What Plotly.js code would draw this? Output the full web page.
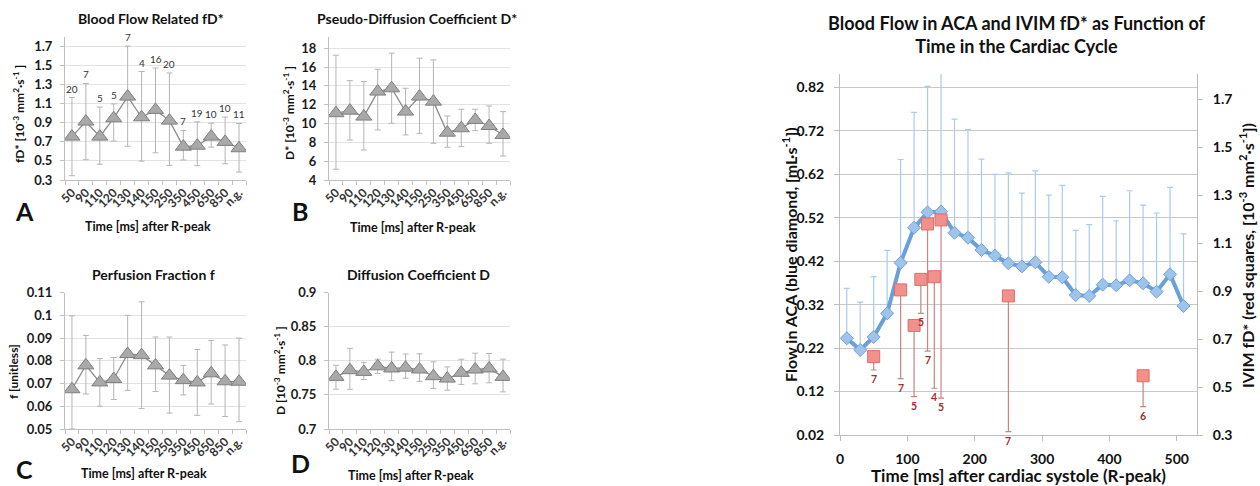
<!DOCTYPE html>
<html>
<head>
<meta charset="utf-8">
<script src="https://cdn.plot.ly/plotly-3.0.1.min.js"></script>
<style>html,body{margin:0;padding:0;background:#fff;}#chart{width:1260px;height:486px;}</style>
</head>
<body>
<div id="chart"></div>
<script>
// ---------- data ----------
const categories = ['50','90','110','120','130','140','150','250','350','450','650','850','n.g.'];

// Panel A: blood flow related fD*
const fdStar      = [0.755, 0.913, 0.755, 0.948, 1.175, 0.958, 1.035, 0.923, 0.650, 0.660, 0.755, 0.700, 0.633];
const fdStarPlus  = [0.41, 0.40, 0.31, 0.15, 0.53, 0.48, 0.44, 0.50, 0.17, 0.25, 0.14, 0.26, 0.26];
const fdStarMinus = [0.41, 0.40, 0.29, 0.24, 0.52, 0.46, 0.45, 0.47, 0.14, 0.21, 0.11, 0.23, 0.25];
const fdStarN     = ['20','7','5','5','7','4','16','20','7','19','10','10','11'];

// Panel B: pseudo-diffusion coefficient D*
const dStar      = [11.10, 11.37, 10.74, 13.40, 13.75, 11.27, 12.87, 12.33, 9.03, 9.50, 10.38, 9.74, 8.79];
const dStarPlus  = [6.16, 3.19, 3.72, 2.37, 3.73, 2.48, 4.07, 4.44, 1.78, 2.02, 1.14, 2.13, 2.48];
const dStarMinus = [5.96, 3.11, 3.55, 4.08, 3.72, 2.48, 3.91, 4.43, 1.55, 1.95, 1.13, 1.84, 2.24];

// Panel C: perfusion fraction f
const fFrac      = [0.0675, 0.0780, 0.0705, 0.0720, 0.0830, 0.0825, 0.0780, 0.0735, 0.0715, 0.0705, 0.0745, 0.0710, 0.0708];
const fFracPlus  = [0.0323, 0.0132, 0.0105, 0.0095, 0.0170, 0.0235, 0.0125, 0.0170, 0.0065, 0.0145, 0.0145, 0.0160, 0.0192];
const fFracMinus = [0.0175, 0.0126, 0.0105, 0.0090, 0.0160, 0.0235, 0.0115, 0.0165, 0.0065, 0.0145, 0.0135, 0.0155, 0.0176];

// Panel D: diffusion coefficient D
const dCoef      = [0.7765, 0.7863, 0.7838, 0.7920, 0.7888, 0.7900, 0.7873, 0.7775, 0.7740, 0.7824, 0.7873, 0.7888, 0.7765];
const dCoefPlus  = [0.017, 0.032, 0.014, 0.0105, 0.024, 0.020, 0.023, 0.021, 0.017, 0.020, 0.024, 0.022, 0.026];
const dCoefMinus = [0.018, 0.028, 0.011, 0.0105, 0.018, 0.0155, 0.0175, 0.018, 0.017, 0.017, 0.021, 0.021, 0.022];

// Right panel: flow in ACA (blue diamonds)
const flowTime = [10,30,50,70,90,110,130,150,170,190,210,230,250,270,290,310,330,350,370,390,410,430,450,470,490,510];
const flowACA  = [0.2425,0.2156,0.2455,0.300,0.4165,0.497,0.5324,0.534,0.4855,0.474,0.4457,0.4326,0.415,0.408,0.4174,0.384,0.383,0.342,0.340,0.366,0.3645,0.376,0.369,0.3498,0.3898,0.3168];
const flowErr  = [0.115,0.110,0.139,0.145,0.2375,0.2655,0.29,0.33,0.2615,0.249,0.209,0.187,0.208,0.1685,0.2106,0.188,0.2115,0.149,0.164,0.203,0.1485,0.206,0.18,0.181,0.200,0.166];

// Right panel: IVIM fD* (red squares)
const ivimTime = [50, 90, 110, 120, 130, 140, 150, 250, 450];
const ivimFd   = [0.627, 0.905, 0.757, 0.949, 1.180, 0.960, 1.197, 0.880, 0.547];
const ivimErr  = [0.056, 0.370, 0.297, 0.142, 0.530, 0.465, 0.743, 0.566, 0.129];
const ivimN    = ['7','7','5','5','7','4','5','7','6'];

// tick labels
const ticksA = ['0.3','0.5','0.7','0.9','1.1','1.3','1.5','1.7'];
const ticksB = ['4','6','8','10','12','14','16','18'];
const ticksC = ['0.05','0.06','0.07','0.08','0.09','0.1','0.11'];
const ticksD = ['0.7','0.75','0.8','0.85','0.9'];
const ticksFlow = ['0.02','0.12','0.22','0.32','0.42','0.52','0.62','0.72','0.82'];
const ticksIvim = ['0.3','0.5','0.7','0.9','1.1','1.3','1.5','1.7'];
const ticksTime = ['0','100','200','300','400','500'];

// ---------- helpers ----------
const W = 1260, H = 486;
const F = 'Lato, "Open Sans", sans-serif';
const dx = (a, b) => [a / W, b / W];
const dy = (top, bottom) => [(H - bottom) / H, (H - top) / H];
const num = a => a.map(Number);

const grayTrace = (y, plus, minus, xa, ya) => ({
  type: 'scatter', mode: 'lines+markers', x: categories, y: y,
  xaxis: xa, yaxis: ya,
  line: {color: '#8c8c8c', width: 1.3},
  marker: {symbol: 'triangle-up', size: 14, color: '#a9a9a9', line: {color: '#7f7f7f', width: 1}},
  error_y: {type: 'data', symmetric: false, array: plus, arrayminus: minus, color: '#b5b5b5', thickness: 1, width: 3},
  hoverinfo: 'skip', showlegend: false
});

const traces = [
  grayTrace(fdStar, fdStarPlus, fdStarMinus, 'x', 'y'),
  grayTrace(dStar, dStarPlus, dStarMinus, 'x2', 'y2'),
  grayTrace(fFrac, fFracPlus, fFracMinus, 'x3', 'y3'),
  grayTrace(dCoef, dCoefPlus, dCoefMinus, 'x4', 'y4'),
  {
    type: 'scatter', mode: 'lines+markers', x: flowTime, y: flowACA, xaxis: 'x5', yaxis: 'y5',
    line: {color: '#6a9fd7', width: 4},
    marker: {symbol: 'diamond', size: 10, color: '#9fc4ec', line: {color: '#6ea3da', width: 1}},
    error_y: {type: 'data', symmetric: false, array: flowErr, arrayminus: flowErr.map(() => 0), color: '#a9cbee', thickness: 1.2, width: 3},
    showlegend: false
  },
  {
    type: 'scatter', mode: 'markers', x: ivimTime, y: ivimFd, xaxis: 'x5', yaxis: 'y6',
    marker: {symbol: 'square', size: 12, color: '#f2918c', line: {color: '#dc6d68', width: 1}},
    error_y: {type: 'data', symmetric: false, array: ivimErr.map(() => 0), arrayminus: ivimErr, color: '#c98585', thickness: 1.2, width: 3},
    showlegend: false
  }
];

const tickFontS = {family: F, size: 13, weight: 'bold', color: '#1a1a1a'};
const xTickFontS = {family: F, size: 12, weight: 'bold', color: '#333'};

const catX = (dom, anchor) => ({
  domain: dom, anchor: anchor, type: 'category', categoryorder: 'array', categoryarray: categories,
  range: [-0.5, categories.length - 0.5], tickmode: 'linear', tick0: 0, dtick: 1,
  tickangle: -45, ticks: 'outside', tickson: 'boundaries', ticklen: 4, tickcolor: '#bfbfbf',
  showline: true, linecolor: '#bfbfbf', linewidth: 1, showgrid: false, zeroline: false,
  tickfont: xTickFontS, fixedrange: true
});
const valY = (dom, anchor, range, labels) => ({
  domain: dom, anchor: anchor, range: range, tickmode: 'array', tickvals: num(labels), ticktext: labels,
  ticks: 'outside', ticklen: 4, tickcolor: '#bfbfbf', showline: true, linecolor: '#bfbfbf', linewidth: 1,
  showgrid: true, gridcolor: '#e2e2e2', gridwidth: 1, zeroline: false, tickfont: tickFontS,
  ticklabelstandoff: 5, fixedrange: true
});

const topRow = dy(37, 180), botRow = dy(292.7, 429);
const leftCol = dx(65, 246), midCol = dx(329, 510);

const layout = {
  width: W, height: H, margin: {l: 0, r: 0, t: 0, b: 0},
  paper_bgcolor: '#fff', plot_bgcolor: '#fff', showlegend: false,
  font: {family: F, color: '#111'},
  xaxis: catX(leftCol, 'y'),
  yaxis: valY(topRow, 'x', [0.3, 1.8], ticksA),
  xaxis2: catX(midCol, 'y2'),
  yaxis2: valY(topRow, 'x2', [4, 19.2], ticksB),
  xaxis3: catX(leftCol, 'y3'),
  yaxis3: valY(botRow, 'x3', [0.05, 0.11], ticksC),
  xaxis4: catX(midCol, 'y4'),
  yaxis4: valY(botRow, 'x4', [0.7, 0.9], ticksD),
  xaxis5: {
    domain: dx(840, 1197), anchor: 'y5', range: [0, 530], tickmode: 'array', tickvals: num(ticksTime), ticktext: ticksTime,
    ticks: 'outside', ticklen: 5, tickcolor: '#bdbdbd', showline: true, linecolor: '#bdbdbd', showgrid: false, zeroline: false,
    tickfont: {family: F, size: 14, weight: 'bold', color: '#111'}, ticklabelstandoff: 6, fixedrange: true
  },
  yaxis5: {
    domain: dy(74, 435), anchor: 'x5', range: [0.02, 0.8507], tickmode: 'array', tickvals: num(ticksFlow), ticktext: ticksFlow,
    ticks: 'outside', ticklen: 5, tickcolor: '#bdbdbd', showline: true, linecolor: '#bdbdbd', showgrid: true, gridcolor: '#c9c9c9',
    zeroline: false, tickfont: {family: F, size: 14, weight: 'bold', color: '#111'}, ticklabelstandoff: 7, fixedrange: true
  },
  yaxis6: {
    overlaying: 'y5', side: 'right', anchor: 'x5', range: [0.3, 1.8054], tickmode: 'array', tickvals: num(ticksIvim), ticktext: ticksIvim,
    ticks: 'outside', ticklen: 5, tickcolor: '#bdbdbd', showline: true, linecolor: '#bdbdbd', showgrid: false, zeroline: false,
    tickfont: {family: F, size: 14, weight: 'bold', color: '#111'}, ticklabelstandoff: 7, fixedrange: true
  },
  annotations: []
};

const ann = layout.annotations;
const paperText = (x, y, text, size, extra) => ann.push(Object.assign({
  xref: 'paper', yref: 'paper', x: x / W, y: (H - y) / H, xanchor: 'center', yanchor: 'middle',
  text: text, showarrow: false, font: {family: F, size: size, weight: 'bold', color: '#111'}
}, extra || {}));

// panel titles
paperText(151, 18, 'Blood Flow Related fD*', 14);
paperText(417, 18, 'Pseudo-Diffusion Coefficient D*', 14);
paperText(153, 275, 'Perfusion Fraction f', 14);
paperText(418, 275, 'Diffusion Coefficient D', 14);
// x axis titles
paperText(148, 226, 'Time [ms] after R-peak', 12.5);
paperText(413, 227, 'Time [ms] after R-peak', 12.5);
paperText(144, 473, 'Time [ms] after R-peak', 12.5);
paperText(411, 475, 'Time [ms] after R-peak', 12.5);
// y axis titles
paperText(19, 114, 'fD* [10<sup>-3</sup> mm<sup>2</sup>·s<sup>-1</sup> ]', 12, {textangle: -90});
paperText(289, 113, 'D* [10<sup>-3</sup> mm<sup>2</sup>·s<sup>-1</sup> ]', 12, {textangle: -90});
paperText(13, 372, 'f [unitless]', 12, {textangle: -90});
paperText(280, 371, 'D [10<sup>-3</sup> mm<sup>2</sup>·s<sup>-1</sup> ]', 12, {textangle: -90});
// panel letters
paperText(24, 211, 'A', 25);
paperText(300, 211, 'B', 25);
paperText(24, 469, 'C', 25);
paperText(300, 463, 'D', 25);
// right chart
paperText(1016, 34, 'Blood Flow in ACA and IVIM fD* as Function of<br>Time in the Cardiac Cycle', 18);
paperText(1018, 475, 'Time [ms] after cardiac systole (R-peak)', 17);
paperText(789, 255, 'Flow in ACA (blue diamond, [mL·s<sup>-1</sup>])', 16, {textangle: -90});
paperText(1246, 256, 'IVIM fD* (red squares, [10<sup>-3</sup> mm<sup>2</sup>·s<sup>-1</sup>])', 16, {textangle: -90});

// n labels above panel A error bars (x given as category index)
categories.forEach((c, i) => ann.push({
  xref: 'x', yref: 'y', x: i, y: fdStar[i] + fdStarPlus[i], yanchor: 'bottom', yshift: 1,
  text: fdStarN[i], showarrow: false, font: {family: F, size: 10, color: '#333'}
}));
// n labels below red error bars
ivimTime.forEach((t, i) => ann.push({
  xref: 'x5', yref: 'y6', x: t, y: ivimFd[i] - ivimErr[i], yanchor: 'top', yshift: -1,
  text: ivimN[i], showarrow: false, font: {family: F, size: 10.5, weight: 'bold', color: '#9e2f2f'}
}));

Plotly.newPlot('chart', traces, layout, {staticPlot: true, displayModeBar: false});
</script>
</body>
</html>
